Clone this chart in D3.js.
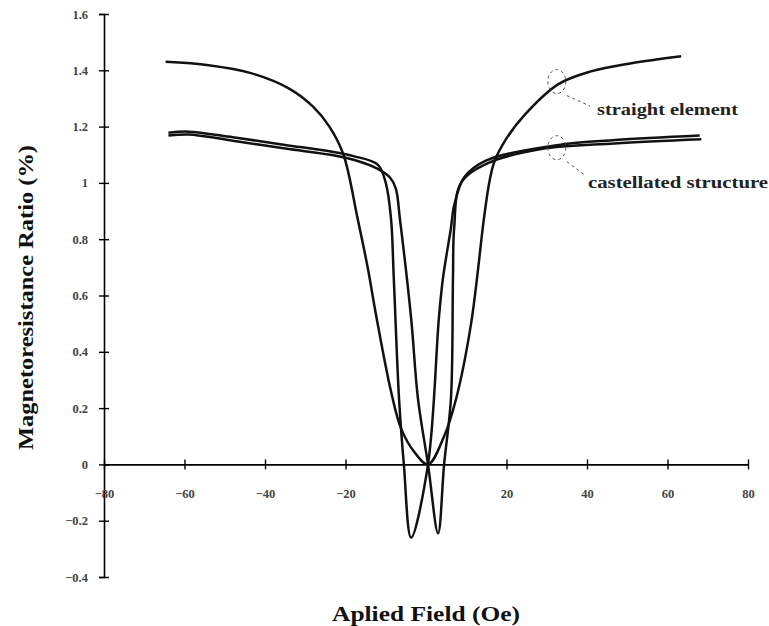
<!DOCTYPE html>
<html>
<head>
<meta charset="utf-8">
<script src="https://cdn.jsdelivr.net/npm/d3@7"></script>
<style>
  body { margin: 0; background: #fff; }
  svg text { font-family: "Liberation Serif", "Times New Roman", serif; }
</style>
</head>
<body>
<div id="chart"></div>
<script>
// Tick values for both axes
const xTicks = [-80, -60, -40, -20, 20, 40, 60, 80];
const yTicks = [-0.4, -0.2, 0, 0.2, 0.4, 0.6, 0.8, 1, 1.2, 1.4, 1.6];

// Straight element (field in Oe, MR ratio in %)
const straightField = [-64.7, -54, -43.5, -34, -28, -24, -20.5, -17, -14.5, -12.4, -8.7, -6.2, -3, 0.5, 4.5, 7.5, 11.2, 14.4, 15.7, 17, 20, 24.4, 32.8, 41, 51, 63.4];
const straightRatio = [1.43, 1.418, 1.39, 1.335, 1.27, 1.2, 1.1, 0.874, 0.7, 0.53, 0.26, 0.128, 0.046, 0.0, 0.1, 0.234, 0.5, 0.874, 1.0, 1.076, 1.158, 1.24, 1.35, 1.396, 1.425, 1.45];

// Castellated structure, sweep with the dip on the positive side
const castUpField = [-64, -59, -48, -35, -23, -18, -12, -9, -7.5, -6.5, -3.7, -2, 0.5, 3, 4.5, 6.2, 6.7, 7, 8.7, 15.4, 28.6, 46.8, 68.4];
const castUpRatio = [1.168, 1.172, 1.15, 1.122, 1.098, 1.082, 1.05, 1.02, 0.98, 0.874, 0.52, 0.234, 0.0, -0.245, 0.0, 0.234, 0.66, 0.84, 1.0, 1.07, 1.12, 1.14, 1.155];

// Castellated structure, sweep with the dip on the negative side
const castDownField = [-64, -59, -48, -35, -23, -18, -12, -10, -8.7, -8, -6.7, -5.5, -3.7, 0.5, 3.2, 4.2, 6.2, 7, 9.5, 15, 33, 47, 68];
const castDownRatio = [1.178, 1.182, 1.162, 1.135, 1.11, 1.095, 1.065, 1.0, 0.874, 0.66, 0.234, 0.0, -0.26, 0.0, 0.52, 0.66, 0.84, 0.92, 1.02, 1.08, 1.135, 1.152, 1.168];

const width = 769;
const height = 626;

var svg = d3
  .select("#chart")
  .append("svg")
  .attr("width", width)
  .attr("height", height);

var x = d3.scaleLinear().domain([-80, 80]).range([104, 748]);
var y = d3.scaleLinear().domain([-0.4, 1.6]).range([577, 14]);

// Y axis with ticks crossing the line
svg
  .append("g")
  .attr("transform", "translate(" + x(-80) + ",0)")
  .call(d3.axisLeft(y).tickValues(yTicks).tickSize(5).tickPadding(11).tickFormat(d3.format("~g")))
  .call(g => g.select(".domain").attr("stroke-width", 1.6))
  .call(g => g.selectAll(".tick line").attr("x1", -5).attr("x2", 5).attr("stroke-width", 1.4))
  .call(g => g.selectAll(".tick text").attr("font-size", 12.5).attr("font-weight", "bold").attr("fill", "#444"));

// X axis sits on the zero line
svg
  .append("g")
  .attr("transform", "translate(0," + y(0) + ")")
  .call(d3.axisBottom(x).tickValues(xTicks).tickSize(5).tickPadding(20).tickSizeOuter(0))
  .call(g => g.select(".domain").attr("stroke-width", 1.6))
  .call(g => g.selectAll(".tick line").attr("y1", -5).attr("y2", 5).attr("stroke-width", 1.4))
  .call(g => g.selectAll(".tick text").attr("font-size", 12.5).attr("font-weight", "bold").attr("fill", "#444"));

var line = d3
  .line()
  .x(d => x(d[0]))
  .y(d => y(d[1]))
  .curve(d3.curveCatmullRom.alpha(0.5));

function drawCurve(fields, ratios) {
  svg
    .append("path")
    .datum(d3.zip(fields, ratios))
    .attr("d", line)
    .attr("fill", "none")
    .attr("stroke", "#111")
    .attr("stroke-width", 2.5);
}

drawCurve(castUpField, castUpRatio);
drawCurve(castDownField, castDownRatio);
drawCurve(straightField, straightRatio);

// Dashed callout circles and leaders
function callout(fx, fy, tx, ty) {
  svg
    .append("ellipse")
    .attr("cx", x(fx))
    .attr("cy", y(fy))
    .attr("rx", 9)
    .attr("ry", 12)
    .attr("fill", "none")
    .attr("stroke", "#555")
    .attr("stroke-dasharray", "3,3");
  svg
    .append("line")
    .attr("x1", x(fx) + 10)
    .attr("y1", y(fy) + 14)
    .attr("x2", tx)
    .attr("y2", ty)
    .attr("stroke", "#555")
    .attr("stroke-dasharray", "3,3");
}
callout(32.5, 1.36, 590, 106);
callout(32.5, 1.125, 586, 176);

svg
  .append("text")
  .attr("x", 597)
  .attr("y", 115)
  .attr("font-size", 17)
  .attr("font-weight", "bold")
  .attr("textLength", 141)
  .attr("lengthAdjust", "spacingAndGlyphs")
  .attr("fill", "#222")
  .text("straight element");

svg
  .append("text")
  .attr("x", 588)
  .attr("y", 188)
  .attr("font-size", 17)
  .attr("font-weight", "bold")
  .attr("textLength", 180)
  .attr("lengthAdjust", "spacingAndGlyphs")
  .attr("fill", "#222")
  .text("castellated structure");

// Axis titles
svg
  .append("text")
  .attr("x", 332)
  .attr("y", 621)
  .attr("font-size", 22)
  .attr("font-weight", "bold")
  .attr("textLength", 188)
  .attr("lengthAdjust", "spacingAndGlyphs")
  .attr("fill", "#111")
  .text("Aplied Field (Oe)");

svg
  .append("text")
  .attr("transform", "translate(33,450) rotate(-90)")
  .attr("font-size", 20)
  .attr("font-weight", "bold")
  .attr("textLength", 305)
  .attr("lengthAdjust", "spacingAndGlyphs")
  .attr("fill", "#111")
  .text("Magnetoresistance Ratio (%)");
</script>
</body>
</html>
